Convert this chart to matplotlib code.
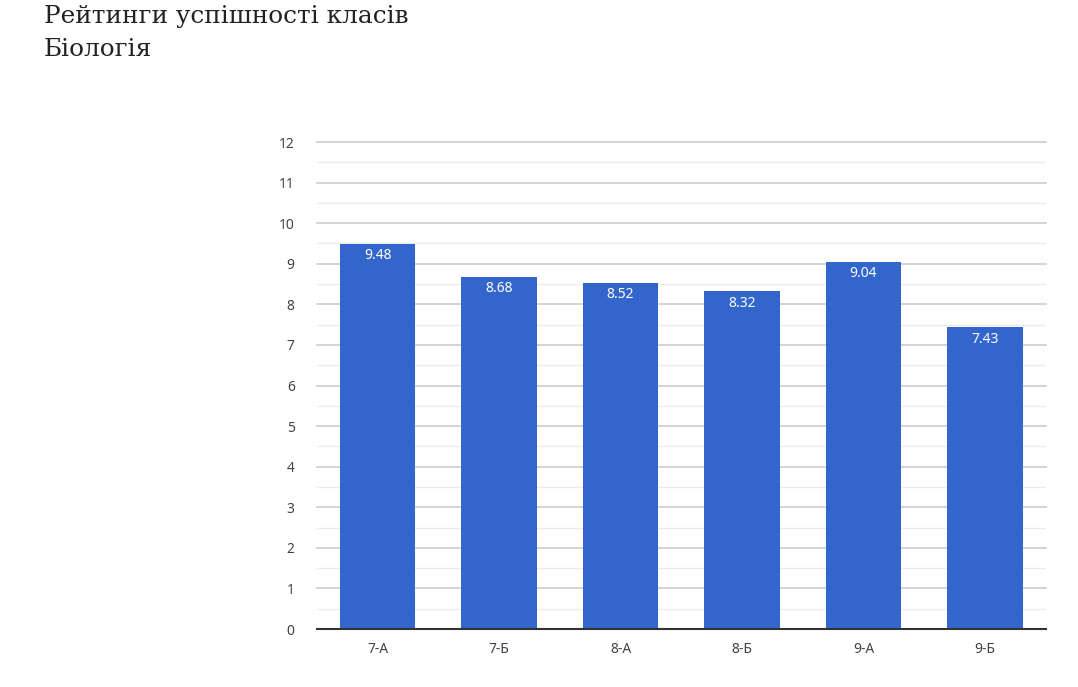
import matplotlib
matplotlib.use("Agg")
import matplotlib.pyplot as plt
import numpy as np

classes = ["7-А", "7-Б", "8-А", "8-Б", "9-А", "9-Б"]
scores = [9.48, 8.68, 8.52, 8.32, 9.04, 7.43]
y_ticks = list(range(0, 13))

fig = plt.figure(figsize=(10.78, 6.87), dpi=100)
ax = fig.add_axes([0.294, 0.0844, 0.676, 0.7089])

x = np.arange(len(classes))
bars = ax.bar(x, scores, width=0.62, color="#3366cc", zorder=3)

for b, v in zip(bars, scores):
    ax.annotate(f"{v:.2f}", (b.get_x() + b.get_width() / 2, v),
                xytext=(0, -3), textcoords="offset points",
                ha="center", va="top", color="white",
                fontsize=10, family="Noto Sans", zorder=4)

ax.set_xlim(-0.5, len(classes) - 0.5)
ax.set_ylim(0, 12)
ax.set_yticks(y_ticks)
ax.set_yticks(np.arange(0.5, 12, 1), minor=True)
ax.set_xticks(x)
ax.set_xticklabels(classes)
ax.grid(axis="y", which="major", color="#cccccc", linewidth=1.2, zorder=0)
ax.grid(axis="y", which="minor", color="#ebebeb", linewidth=1.0, zorder=0)
for gl in ax.get_ygridlines():
    gl.set_clip_on(False)
ax.tick_params(axis="both", which="both", length=0, labelsize=10,
               labelcolor="#444444")
ax.tick_params(axis="y", pad=16)
ax.tick_params(axis="x", pad=9)
for lab in ax.get_xticklabels() + ax.get_yticklabels():
    lab.set_family("Noto Sans")
for s in ["top", "right", "left"]:
    ax.spines[s].set_visible(False)
ax.spines["bottom"].set_color("#333333")
ax.spines["bottom"].set_linewidth(1.5)
ax.spines["bottom"].set_zorder(5)

fig.text(44 / 1078, 1 - 17 / 687, "Рейтинги успішності класів",
         family="DejaVu Serif", fontsize=17.8, va="center", ha="left",
         color="#222222")
fig.text(44 / 1078, 1 - 50 / 687, "Біологія",
         family="DejaVu Serif", fontsize=17.8, va="center", ha="left",
         color="#222222")

fig.savefig("out.png", dpi=100)
